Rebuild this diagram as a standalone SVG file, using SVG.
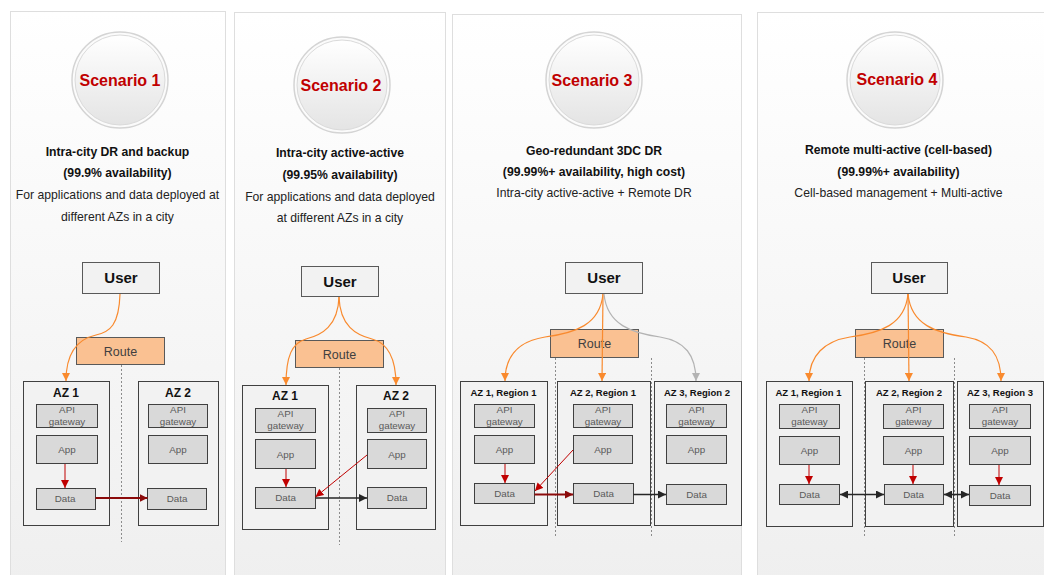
<svg xmlns="http://www.w3.org/2000/svg" width="1044" height="575" viewBox="0 0 1044 575">
<style>
text{font-family:"Liberation Sans",Arial,sans-serif}
.panel{fill:url(#pg);stroke:#dedede;stroke-width:1}
.ring{fill:#fbfbfb;stroke:#d4d4d4;stroke-width:1.5}
.disc{fill:url(#cg);stroke:#dadada;stroke-width:1}
.scn{font-size:16px;font-weight:bold;fill:#c00000;text-anchor:middle}
.h{font-size:12.2px;font-weight:bold;fill:#111;text-anchor:middle}
.d{font-size:12.2px;fill:#222;text-anchor:middle}
.user{fill:#f2f2f2;stroke:#595959;stroke-width:1}
.ut{font-size:15px;font-weight:bold;fill:#111;text-anchor:middle}
.route{fill:#fac192;stroke:#595959;stroke-width:1}
.rt{font-size:12.5px;fill:#404040;text-anchor:middle}
.az{fill:#f2f2f2;stroke:#404040;stroke-width:1}
.azt{font-size:12px;font-weight:bold;fill:#111;text-anchor:middle}
.azs{font-size:9.5px;font-weight:bold;fill:#111;text-anchor:middle}
.box{fill:#d9d9d9;stroke:#404040;stroke-width:1}
.bt{font-size:9.8px;fill:#595959;text-anchor:middle}
.dash{stroke:#8c8c8c;stroke-width:1;stroke-dasharray:2,2;fill:none}
.co{fill:none;stroke:#f98a2e;stroke-width:1.2;marker-end:url(#mo)}
.cg{fill:none;stroke:#b3b3b3;stroke-width:1.2;marker-end:url(#mg)}
.cr{fill:none;stroke:#c00000;stroke-width:1;marker-end:url(#mr)}
.cdr{fill:none;stroke:#8b0a0a;stroke-width:2;marker-end:url(#mdr)}
.ck{fill:none;stroke:#262626;stroke-width:1.6;marker-end:url(#mk)}
.ckb{fill:none;stroke:#262626;stroke-width:1.6;marker-end:url(#mk);marker-start:url(#mk)}
</style>
<defs>
<linearGradient id="pg" x1="0" y1="0" x2="0" y2="1"><stop offset="0" stop-color="#ffffff"/><stop offset="1" stop-color="#efefef"/></linearGradient>
<linearGradient id="cg" x1="0" y1="0" x2="0" y2="1"><stop offset="0" stop-color="#ffffff"/><stop offset="1" stop-color="#e4e4e4"/></linearGradient>
<marker id="mo" viewBox="0 0 10 10" refX="10" refY="5" markerWidth="9" markerHeight="8" markerUnits="userSpaceOnUse" orient="auto-start-reverse"><path d="M0,0 L10,5 L0,10 z" fill="#f98a2e"/></marker>
<marker id="mg" viewBox="0 0 10 10" refX="10" refY="5" markerWidth="9" markerHeight="8" markerUnits="userSpaceOnUse" orient="auto-start-reverse"><path d="M0,0 L10,5 L0,10 z" fill="#b3b3b3"/></marker>
<marker id="mr" viewBox="0 0 10 10" refX="10" refY="5" markerWidth="8" markerHeight="8" markerUnits="userSpaceOnUse" orient="auto-start-reverse"><path d="M0,0 L10,5 L0,10 z" fill="#c00000"/></marker>
<marker id="mdr" viewBox="0 0 10 10" refX="10" refY="5" markerWidth="8" markerHeight="8" markerUnits="userSpaceOnUse" orient="auto-start-reverse"><path d="M0,0 L10,5 L0,10 z" fill="#8b0a0a"/></marker>
<marker id="mk" viewBox="0 0 10 10" refX="10" refY="5" markerWidth="8" markerHeight="8" markerUnits="userSpaceOnUse" orient="auto-start-reverse"><path d="M0,0 L10,5 L0,10 z" fill="#262626"/></marker>
</defs>
<rect width="1044" height="575" fill="#ffffff"/>

<!-- Panel 1 -->
<g id="panel1">
<rect class="panel" x="10.5" y="11.5" width="215" height="570"/>
<circle class="ring" cx="120" cy="80" r="48"/>
<circle class="disc" cx="120" cy="80" r="45"/>
<text class="scn" x="120" y="86">Scenario 1</text>
<text class="h" x="117.5" y="156">Intra-city DR and backup</text>
<text class="h" x="117.5" y="177">(99.9% availability)</text>
<text class="d" x="117.5" y="199">For applications and data deployed at</text>
<text class="d" x="117.5" y="221">different AZs in a city</text>
</g>
<g id="p1-user"><rect class="user" x="82.5" y="262.5" width="77" height="31"/><text class="ut" x="121" y="283">User</text></g>
<g id="p1-route"><rect class="route" x="76.5" y="337.5" width="88" height="27"/><text class="rt" x="120.5" y="355.5">Route</text></g>
<line class="dash" x1="121.5" y1="365" x2="121.5" y2="542"/>
<g id="p1-az1">
<rect class="az" x="23.5" y="381.5" width="86" height="144"/>
<text class="azt" x="66" y="397">AZ 1</text>
<rect class="box" x="36.5" y="404.5" width="61" height="23"/><text class="bt" x="67" y="413">API</text><text class="bt" x="67" y="424.5">gateway</text>
<rect class="box" x="36.5" y="435.5" width="61" height="28"/><text class="bt" x="67" y="453">App</text>
<rect class="box" x="36.5" y="488.5" width="59" height="21"/><text class="bt" x="65" y="502">Data</text>
</g>
<g id="p1-az2">
<rect class="az" x="138.5" y="381.5" width="80" height="144"/>
<text class="azt" x="178" y="397">AZ 2</text>
<rect class="box" x="148.5" y="404.5" width="59" height="23"/><text class="bt" x="178" y="413">API</text><text class="bt" x="178" y="424.5">gateway</text>
<rect class="box" x="148.5" y="435.5" width="59" height="28"/><text class="bt" x="178" y="453">App</text>
<rect class="box" x="147.5" y="488.5" width="59" height="21"/><text class="bt" x="177" y="502">Data</text>
</g>

<!-- Panel 2 -->
<g id="panel2">
<rect class="panel" x="234.5" y="12.5" width="211" height="570"/>
<circle class="ring" cx="342" cy="85" r="48"/>
<circle class="disc" cx="342" cy="85" r="45"/>
<text class="scn" x="341" y="91">Scenario 2</text>
<text class="h" x="340" y="157">Intra-city active-active</text>
<text class="h" x="340" y="179">(99.95% availability)</text>
<text class="d" x="340" y="201">For applications and data deployed</text>
<text class="d" x="340" y="222">at different AZs in a city</text>
</g>
<g id="p2-user"><rect class="user" x="301.5" y="266.5" width="77" height="30"/><text class="ut" x="340" y="287">User</text></g>
<g id="p2-route"><rect class="route" x="295.5" y="340.5" width="88" height="27"/><text class="rt" x="339.5" y="358.5">Route</text></g>
<line class="dash" x1="339.5" y1="368" x2="339.5" y2="545"/>
<g id="p2-az1">
<rect class="az" x="242.5" y="385.5" width="86" height="144"/>
<text class="azt" x="285" y="400">AZ 1</text>
<rect class="box" x="255.5" y="408.5" width="60" height="24"/><text class="bt" x="285.5" y="417">API</text><text class="bt" x="285.5" y="429">gateway</text>
<rect class="box" x="255.5" y="439.5" width="60" height="29"/><text class="bt" x="285.5" y="457.5">App</text>
<rect class="box" x="255.5" y="487.5" width="60" height="21"/><text class="bt" x="285.5" y="501">Data</text>
</g>
<g id="p2-az2">
<rect class="az" x="356.5" y="385.5" width="79" height="144"/>
<text class="azt" x="396" y="400">AZ 2</text>
<rect class="box" x="367.5" y="408.5" width="59" height="24"/><text class="bt" x="397" y="417">API</text><text class="bt" x="397" y="429">gateway</text>
<rect class="box" x="367.5" y="439.5" width="59" height="29"/><text class="bt" x="397" y="457.5">App</text>
<rect class="box" x="367.5" y="487.5" width="59" height="21"/><text class="bt" x="397" y="501">Data</text>
</g>

<!-- Panel 3 -->
<g id="panel3">
<rect class="panel" x="452.5" y="14.5" width="289" height="570"/>
<circle class="ring" cx="594" cy="80" r="48"/>
<circle class="disc" cx="594" cy="80" r="45"/>
<text class="scn" x="592" y="86">Scenario 3</text>
<text class="h" x="594" y="155">Geo-redundant 3DC DR</text>
<text class="h" x="594" y="176">(99.99%+ availability, high cost)</text>
<text class="d" x="594" y="197">Intra-city active-active + Remote DR</text>
</g>
<g id="p3-user"><rect class="user" x="565.5" y="262.5" width="77" height="31"/><text class="ut" x="604" y="283">User</text></g>
<g id="p3-route"><rect class="route" x="550.5" y="329.5" width="88" height="28"/><text class="rt" x="594.5" y="348">Route</text></g>
<line class="dash" x1="555.5" y1="358" x2="555.5" y2="538"/>
<line class="dash" x1="651.5" y1="358" x2="651.5" y2="538"/>
<g id="p3-az1">
<rect class="az" x="460.5" y="381.5" width="87" height="144"/>
<text class="azs" x="503.5" y="395.5">AZ 1, Region 1</text>
<rect class="box" x="474.5" y="404.5" width="60" height="23"/><text class="bt" x="504.5" y="413">API</text><text class="bt" x="504.5" y="424.5">gateway</text>
<rect class="box" x="474.5" y="435.5" width="60" height="28"/><text class="bt" x="504.5" y="453">App</text>
<rect class="box" x="474.5" y="483.5" width="60" height="20"/><text class="bt" x="504.5" y="496.5">Data</text>
</g>
<g id="p3-az2">
<rect class="az" x="557.5" y="381.5" width="93" height="144"/>
<text class="azs" x="603" y="395.5">AZ 2, Region 1</text>
<rect class="box" x="573.5" y="404.5" width="59" height="23"/><text class="bt" x="603" y="413">API</text><text class="bt" x="603" y="424.5">gateway</text>
<rect class="box" x="573.5" y="435.5" width="59" height="28"/><text class="bt" x="603" y="453">App</text>
<rect class="box" x="573.5" y="483.5" width="60" height="20"/><text class="bt" x="603.5" y="496.5">Data</text>
</g>
<g id="p3-az3">
<rect class="az" x="654.5" y="381.5" width="87" height="144"/>
<text class="azs" x="697" y="395.5">AZ 3, Region 2</text>
<rect class="box" x="666.5" y="404.5" width="60" height="23"/><text class="bt" x="696.5" y="413">API</text><text class="bt" x="696.5" y="424.5">gateway</text>
<rect class="box" x="666.5" y="435.5" width="60" height="28"/><text class="bt" x="696.5" y="453">App</text>
<rect class="box" x="666.5" y="484.5" width="60" height="20"/><text class="bt" x="696.5" y="497.5">Data</text>
</g>

<!-- Panel 4 -->
<g id="panel4">
<rect class="panel" x="757.5" y="12.5" width="300" height="570"/>
<circle class="ring" cx="895" cy="80" r="48"/>
<circle class="disc" cx="895" cy="80" r="45"/>
<text class="scn" x="897" y="85">Scenario 4</text>
<text class="h" x="898.5" y="154">Remote multi-active (cell-based)</text>
<text class="h" x="898.5" y="176">(99.99%+ availability)</text>
<text class="d" x="898.5" y="197">Cell-based management + Multi-active</text>
</g>
<g id="p4-user"><rect class="user" x="871.5" y="262.5" width="76" height="31"/><text class="ut" x="909" y="283">User</text></g>
<g id="p4-route"><rect class="route" x="855.5" y="329.5" width="88" height="28"/><text class="rt" x="899.5" y="348">Route</text></g>
<line class="dash" x1="864.5" y1="358" x2="864.5" y2="537"/>
<line class="dash" x1="954.5" y1="358" x2="954.5" y2="537"/>
<g id="p4-az1">
<rect class="az" x="766.5" y="381.5" width="86" height="145"/>
<text class="azs" x="808.5" y="395.5">AZ 1, Region 1</text>
<rect class="box" x="779.5" y="404.5" width="60" height="24"/><text class="bt" x="809.5" y="413">API</text><text class="bt" x="809.5" y="425">gateway</text>
<rect class="box" x="779.5" y="436.5" width="60" height="28"/><text class="bt" x="809.5" y="454">App</text>
<rect class="box" x="779.5" y="484.5" width="60" height="20"/><text class="bt" x="809.5" y="497.5">Data</text>
</g>
<g id="p4-az2">
<rect class="az" x="865.5" y="381.5" width="88" height="145"/>
<text class="azs" x="909" y="395.5">AZ 2, Region 2</text>
<rect class="box" x="883.5" y="404.5" width="60" height="24"/><text class="bt" x="913.5" y="413">API</text><text class="bt" x="913.5" y="425">gateway</text>
<rect class="box" x="883.5" y="436.5" width="60" height="28"/><text class="bt" x="913.5" y="454">App</text>
<rect class="box" x="884.5" y="484.5" width="59" height="20"/><text class="bt" x="913.5" y="497.5">Data</text>
</g>
<g id="p4-az3">
<rect class="az" x="957.5" y="381.5" width="86" height="145"/>
<text class="azs" x="1000" y="395.5">AZ 3, Region 3</text>
<rect class="box" x="969.5" y="404.5" width="61" height="24"/><text class="bt" x="1000" y="413">API</text><text class="bt" x="1000" y="425">gateway</text>
<rect class="box" x="969.5" y="436.5" width="61" height="28"/><text class="bt" x="1000" y="454">App</text>
<rect class="box" x="969.5" y="485.5" width="61" height="20"/><text class="bt" x="1000" y="498.5">Data</text>
</g>

<!-- Connectors -->
<g id="connectors">
<path class="co" d="M120,294 C119,325 110,332 96,335 C78,339 66,352 66,381"/>
<path class="cr" d="M65,464 L65,488"/>
<path class="cdr" d="M95.5,498 L147.5,498"/>

<path class="co" d="M339,297 C338,326 322,335 306,339 C292,343 286,356 286,385"/>
<path class="co" d="M339,297 C340,326 356,335 372,339 C387,343 396,356 396,385"/>
<path class="cr" d="M286,469 L286,487"/>
<path class="cr" d="M367,455 L315.5,497"/>
<path class="ck" d="M315.5,498 L367,498"/>

<path class="co" d="M603,294 C600,325 575,333 545,337 C520,341 505,355 505,381"/>
<path class="co" d="M603,294 L602,381"/>
<path class="cg" d="M604,294 C607,325 632,333 660,337 C685,341 696,355 696,381"/>
<path class="cr" d="M505,464 L505,483"/>
<path class="cr" d="M573,450 L535,491"/>
<path class="cdr" d="M534.5,494.5 L573,494.5"/>
<path class="ck" d="M633.5,494.5 L666,494.5"/>

<path class="co" d="M908,294 C905,325 880,333 850,337 C825,341 809,355 809,381"/>
<path class="co" d="M908,294 L909,381"/>
<path class="co" d="M908,294 C911,325 936,333 966,337 C990,341 1001,355 1001,381"/>
<path class="cr" d="M809,465 L809,484"/>
<path class="cr" d="M913,465 L913,484"/>
<path class="cr" d="M999,465 L999,485"/>
<path class="ckb" d="M840,494.5 L884,494.5"/>
<path class="ckb" d="M944,494.5 L969,494.5"/>
</g>
</svg>
